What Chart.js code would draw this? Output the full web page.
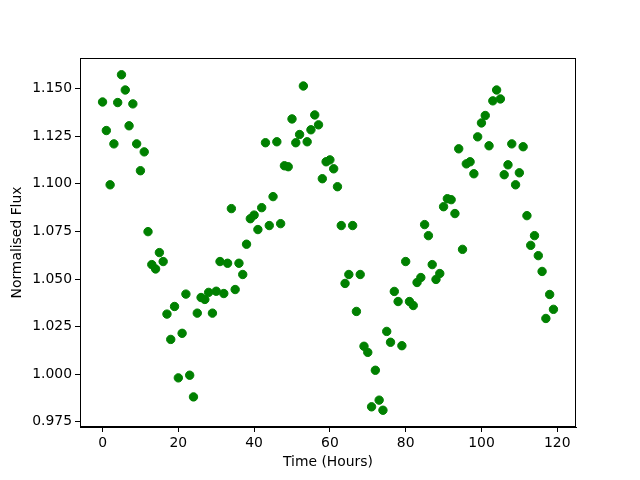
<!DOCTYPE html>
<html>
<head>
<meta charset="utf-8">
<script src="https://cdn.jsdelivr.net/npm/chart.js@4.4.0/dist/chart.umd.min.js"></script>
<style>
  html, body { margin: 0; padding: 0; background: #fff; }
  #chart { display: block; }
</style>
</head>
<body>
<canvas id="chart" width="640" height="480"></canvas>
<script>
// tid i timer (en måling pr. time)
const hours = [
  0, 1, 2, 3, 4, 5, 6, 7, 8, 9, 10, 11, 12, 13, 14, 15, 16, 17, 18, 19,
  20, 21, 22, 23, 24, 25, 26, 27, 28, 29, 30, 31, 32, 33, 34, 35, 36, 37, 38, 39,
  40, 41, 42, 43, 44, 45, 46, 47, 48, 49, 50, 51, 52, 53, 54, 55, 56, 57, 58, 59,
  60, 61, 62, 63, 64, 65, 66, 67, 68, 69, 70, 71, 72, 73, 74, 75, 76, 77, 78, 79,
  80, 81, 82, 83, 84, 85, 86, 87, 88, 89, 90, 91, 92, 93, 94, 95, 96, 97, 98, 99,
  100, 101, 102, 103, 104, 105, 106, 107, 108, 109, 110, 111, 112, 113, 114, 115, 116, 117, 118, 119
];

// normaliseret flux
const flux = [
  1.1430, 1.1280, 1.0995, 1.1210, 1.1427, 1.1573, 1.1493, 1.1305, 1.1420, 1.1210,
  1.1069, 1.1168, 1.0749, 1.0576, 1.0553, 1.0639, 1.0592, 1.0316, 1.0183, 1.0356,
  0.9981, 1.0215, 1.0421, 0.9995, 0.9881, 1.0321, 1.0403, 1.0393, 1.0430, 1.0321,
  1.0436, 1.0592, 1.0424, 1.0583, 1.0870, 1.0445, 1.0583, 1.0524, 1.0683, 1.0817,
  1.0836, 1.0760, 1.0875, 1.1216, 1.0781, 1.0933, 1.1221, 1.0791, 1.1095, 1.1090,
  1.1341, 1.1216, 1.1259, 1.1514, 1.1221, 1.1284, 1.1362, 1.1310, 1.1027, 1.1116,
  1.1126, 1.1079, 1.0985, 1.0781, 1.0477, 1.0524, 1.0781, 1.0330, 1.0524, 1.0147,
  1.0115, 0.9829, 1.0021, 0.9864, 0.9811, 1.0225, 1.0168, 1.0435, 1.0382, 1.0150,
  1.0592, 1.0382, 1.0361, 1.0482, 1.0508, 1.0786, 1.0728, 1.0576, 1.0498, 1.0529,
  1.0880, 1.0922, 1.0917, 1.0844, 1.1184, 1.0656, 1.1105, 1.1116, 1.1053, 1.1247,
  1.1320, 1.1359, 1.1200, 1.1436, 1.1493, 1.1446, 1.1048, 1.1100, 1.1210, 1.0995,
  1.1058, 1.1195, 1.0833, 1.0677, 1.0728, 1.0623, 1.0540, 1.0293, 1.0419, 1.0341
];

const xTicks = [0, 20, 40, 60, 80, 100, 120];
const yTicks = [0.975, 1.000, 1.025, 1.050, 1.075, 1.100, 1.125, 1.150];

const points = hours.map((h, i) => ({ x: h, y: flux[i] }));
const tickFont = { family: 'DejaVu Sans', size: 13.9 };

// sort ramme rundt om plottet (matplotlib-stil)
const frame = {
  id: 'frame',
  afterDraw(chart) {
    const a = chart.chartArea;
    const c = chart.ctx;
    c.save();
    c.strokeStyle = '#000';
    c.lineWidth = 1;
    c.strokeRect(Math.round(a.left) + 0.5, Math.round(a.top) + 0.5,
                 Math.round(a.right - a.left) - 1, Math.round(a.bottom - a.top) - 1);
    c.restore();
  }
};

new Chart(document.querySelector('#chart').getContext('2d'), {
  type: 'scatter',
  data: {
    datasets: [{
      data: points,
      backgroundColor: '#008000',
      borderColor: '#008000',
      borderWidth: 1,
      pointRadius: 4.2,
      pointHoverRadius: 4.2
    }]
  },
  options: {
    responsive: false,
    animation: false,
    layout: { padding: { top: 58, right: 64, left: 0, bottom: 0 } },
    plugins: {
      legend: { display: false },
      tooltip: { enabled: false }
    },
    scales: {
      x: {
        type: 'linear',
        min: -5.95,
        max: 124.95,
        afterBuildTicks: s => { s.ticks = xTicks.map(v => ({ value: v })); },
        afterFit: s => { s.height = 53; },
        grid: { drawOnChartArea: false, drawTicks: true, tickLength: 5, tickColor: '#000' },
        border: { color: '#000' },
        ticks: { color: '#000', font: tickFont, padding: 3, maxRotation: 0, callback: v => String(v) },
        title: { display: true, text: 'Time (Hours)', color: '#000', font: tickFont, padding: { top: 0, bottom: 9 } }
      },
      y: {
        type: 'linear',
        min: 0.9723,
        max: 1.1661,
        afterBuildTicks: s => { s.ticks = yTicks.map(v => ({ value: v })); },
        afterFit: s => { s.width = 80; },
        grid: { drawOnChartArea: false, drawTicks: true, tickLength: 5, tickColor: '#000' },
        border: { color: '#000' },
        ticks: { color: '#000', font: tickFont, padding: 3, callback: v => v.toFixed(3) },
        title: { display: true, text: 'Normalised Flux', color: '#000', font: tickFont, padding: { top: 9, bottom: 0 } }
      }
    }
  },
  plugins: [frame]
});
</script>
</body>
</html>
